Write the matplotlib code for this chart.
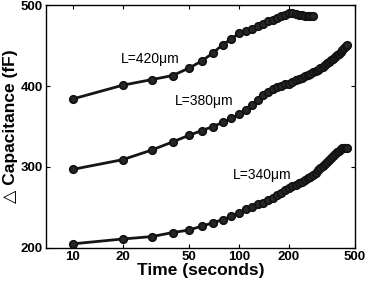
import matplotlib
matplotlib.use('Agg')
import matplotlib.pyplot as plt
from matplotlib.ticker import FixedLocator, FixedFormatter, NullLocator

plt.rcParams['font.family'] = ['Liberation Sans', 'DejaVu Sans']

# Time axis (seconds), sampled every 10 s
t_420 = list(range(10, 290, 10))
t_380 = list(range(10, 460, 10))
t_340 = list(range(10, 460, 10))

# Delta capacitance (fF)
c_420 = [384, 401, 408, 413, 422, 431, 441, 451, 458, 465,
         468, 471, 474, 477, 480, 482, 484, 486, 488, 490,
         490, 489, 488, 488, 487, 487, 487, 487]
c_380 = [297, 309, 321, 331, 339, 345, 350, 355, 360, 365,
         371, 377, 383, 389, 393, 396, 399, 400, 402, 403,
         405, 407, 409, 410, 412, 414, 415, 417, 419, 420,
         422, 424, 426, 428, 430, 432, 434, 436, 438, 440,
         442, 444, 447, 450, 451]
c_340 = [205, 211, 214, 219, 222, 227, 231, 235, 239, 243,
         248, 251, 254, 256, 259, 262, 265, 268, 271, 274,
         276, 278, 280, 282, 284, 286, 288, 290, 293, 296,
         299, 301, 304, 306, 309, 311, 314, 316, 319, 320,
         322, 323, 324, 324, 323]

labels = ['L=420\u03bcm', 'L=380\u03bcm', 'L=340\u03bcm']
label_pos = [(19.4, 433), (41.0, 381), (92.0, 290)]

xticks = [10, 20, 50, 100, 200, 500]
yticks = [200, 300, 400, 500]

fig = plt.figure(figsize=(3.67, 2.83), dpi=100)
ax = fig.add_axes([0.125, 0.124, 0.842, 0.858])

for t, c in [(t_420, c_420), (t_380, c_380), (t_340, c_340)]:
    ax.plot(t, c, color='#151515', linewidth=2.0, marker='o',
            markersize=5.4, markerfacecolor='#262626',
            markeredgecolor='#111111', markeredgewidth=1.2)

for txt, (x, y) in zip(labels, label_pos):
    ax.text(x, y, txt, fontsize=10, va='center', ha='left')

ax.set_xscale('log')
ax.set_xlim(6.9, 500)
ax.set_ylim(200, 500)
ax.xaxis.set_major_locator(FixedLocator(xticks))
ax.xaxis.set_major_formatter(FixedFormatter([str(v) for v in xticks]))
ax.xaxis.set_minor_locator(NullLocator())
ax.set_yticks(yticks)

ax.tick_params(direction='in', top=True, right=True, length=3,
               width=0.8, labelsize=9.5, pad=2)
for lab in ax.get_xticklabels() + ax.get_yticklabels():
    lab.set_fontweight('bold')
for s in ax.spines.values():
    s.set_linewidth(1.0)

ax.set_xlabel('Time (seconds)', fontsize=12.5, fontweight='bold', labelpad=0)
ax.set_ylabel('\u25b3 Capacitance (fF)', fontsize=12.5, fontweight='bold',
              labelpad=2)

fig.savefig('out.png', dpi=100)
